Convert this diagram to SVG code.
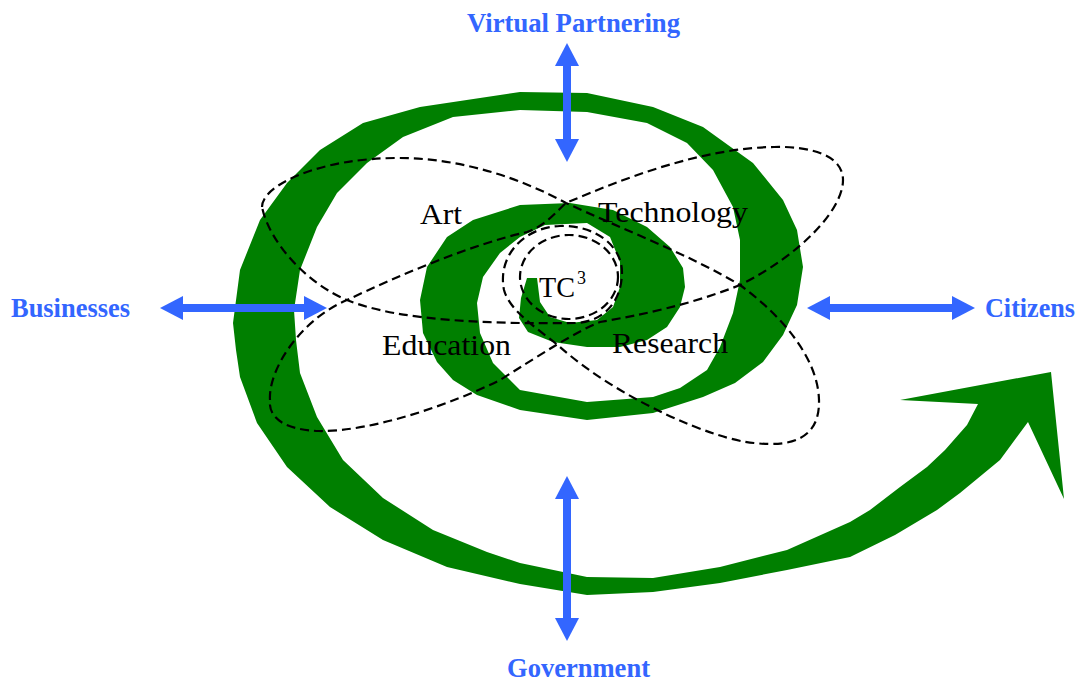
<svg xmlns="http://www.w3.org/2000/svg" width="1079" height="681" viewBox="0 0 1079 681">
  <style>
    .spiral { fill: #007f00; stroke: none; }
    .loop { fill: none; stroke: #000; stroke-width: 2.2; stroke-dasharray: 9 5; }
    .link { stroke: #3366ff; stroke-width: 8; fill: none; marker-start: url(#head); marker-end: url(#head); }
    .outer { font-family: "Liberation Serif", "Times New Roman", serif; font-weight: bold; font-size: 27px; fill: #3366ff; }
    .inner { font-family: "Liberation Serif", "Times New Roman", serif; font-size: 30px; fill: #000; }
  </style>
  <defs>
    <marker id="head" markerUnits="userSpaceOnUse" markerWidth="24" markerHeight="24" viewBox="0 0 24 24" refX="2" refY="12" orient="auto-start-reverse">
      <path d="M0,0 L23,12 L0,24 Z" fill="#3366ff"/>
    </marker>
  </defs>
  <rect width="1079" height="681" fill="#fff"/>

  <!-- green spiral ribbon ending in an arrowhead -->
  <g id="spiral">
    <polygon class="spiral" points="
      527,278 521,298 519,318 528,332 553,342 587,347 620,347 647,340 667,327 680,307 685,287 683,268 670,247 647,227 613,210 570,203
      520,205 473,220 447,237 427,267 420,300 423,333 437,362 453,380 477,395 520,410 587,420 653,413 703,397 735,383 763,362 783,335 797,305 803,267
      797,230 783,200 753,163 703,127 653,107 587,93 520,92 420,107 363,123 320,150 287,183 260,220 240,270 233,323 236,350 240,377
      257,423 287,467 330,507 383,540 447,567 520,584 587,595 653,592 720,583 787,570 850,557 895,535 937,510 960,493 1000,460 1028,422
      1064,499 1051,372 900,400 978,404
      967,425 945,450 927,467 900,487 870,510 850,522 787,550 720,567 653,578 587,577 520,563 487,552 433,530 383,498 343,460 317,417
      300,373 296,340 294,310 300,270 317,227 337,193 367,163 403,137 453,117 520,110 587,112 647,123 687,143 713,170 733,207 740,240
      740,280 733,313 720,347 707,370 680,388 653,397 587,402 520,390 510,380 493,363 480,333 477,303 483,277 500,253 520,237 545,225
      587,223 610,237 620,262 620,287 613,307 597,320 570,323 550,317 540,302 537,278"/>
  </g>

  <!-- dashed orbits -->
  <g id="orbits">
    <path class="loop" d="M262,207 C262,185 320,158 398,158 C461,158 520,178 566,203 C620,228 690,255 740,285 C785,318 818,360 819,400 C820,440 790,447 754,443 C715,440 620,400 560,347 C540,330 510,312 504,290 C497,255 525,227 560,226 C598,225 622,248 622,272 C622,300 605,322 575,323 C500,324 400,322 347,300 C310,285 270,245 262,207 Z"/>
    <path class="loop" d="M270,400 C268,370 300,320 347,300 C400,275 470,245 527,232 C545,226 556,212 566,203 C620,180 700,148 774,147 C810,146 843,155 843,180 C843,210 800,255 740,285 C690,305 640,315 600,322 C575,332 540,355 500,380 C450,405 370,432 319,431 C285,430 268,418 270,400 Z"/>
    <ellipse class="loop" cx="569" cy="277" rx="49" ry="42"/>
  </g>

  <!-- two-way links to the outside partners -->
  <g id="connectors">
    <line class="link" x1="567" y1="64" x2="567" y2="141"/>
    <line class="link" x1="567" y1="497" x2="567" y2="620"/>
    <line class="link" x1="181" y1="308" x2="306" y2="308"/>
    <line class="link" x1="828" y1="308" x2="954" y2="308"/>
  </g>

  <g id="virtual-partnering"><text class="outer" x="467" y="32" textLength="213" lengthAdjust="spacingAndGlyphs">Virtual Partnering</text></g>
  <g id="businesses"><text class="outer" x="11" y="317" textLength="119" lengthAdjust="spacingAndGlyphs">Businesses</text></g>
  <g id="citizens"><text class="outer" x="985" y="317" textLength="90" lengthAdjust="spacingAndGlyphs">Citizens</text></g>
  <g id="government"><text class="outer" x="507" y="677" textLength="143" lengthAdjust="spacingAndGlyphs">Government</text></g>

  <g id="art"><text class="inner" x="420" y="224" textLength="42" lengthAdjust="spacingAndGlyphs">Art</text></g>
  <g id="technology"><text class="inner" x="598" y="222" textLength="150" lengthAdjust="spacingAndGlyphs">Technology</text></g>
  <g id="education"><text class="inner" x="382" y="355" textLength="129" lengthAdjust="spacingAndGlyphs">Education</text></g>
  <g id="research"><text class="inner" x="612" y="353" textLength="116" lengthAdjust="spacingAndGlyphs">Research</text></g>
  <g id="tc3"><text class="inner" x="539" y="297" font-size="29" textLength="36" lengthAdjust="spacingAndGlyphs">TC</text><text class="inner" x="577" y="284" style="font-size:18px">3</text></g>
</svg>
